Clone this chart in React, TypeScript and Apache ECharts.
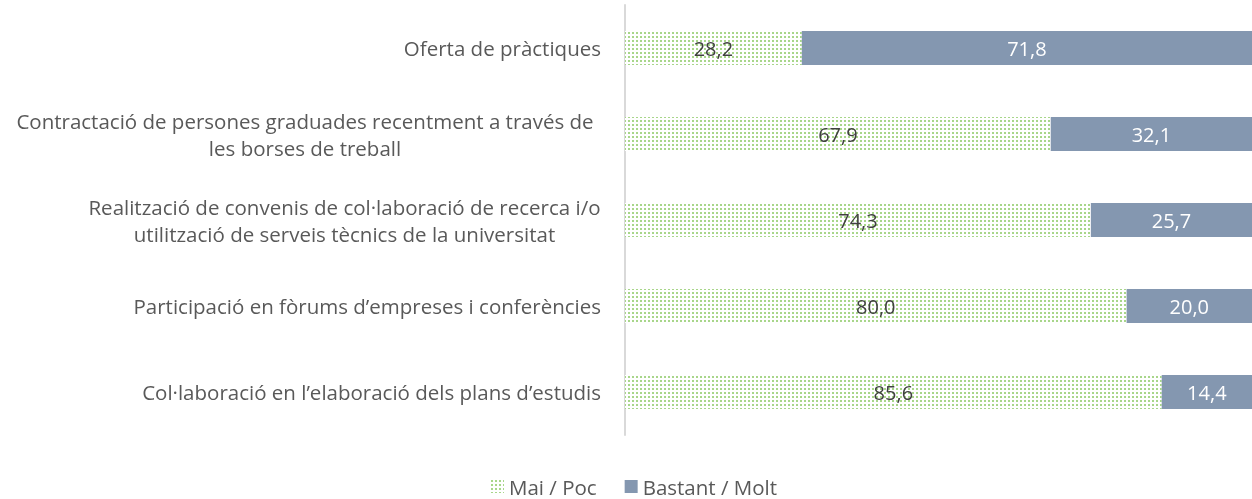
import React, { useEffect, useRef } from "react";
import * as echarts from "echarts";

const categories = [
  "Oferta de pràctiques",
  "Contractació de persones graduades recentment a través de\nles borses de treball",
  "Realització de convenis de col·laboració de recerca i/o\nutilització de serveis tècnics de la universitat",
  "Participació en fòrums d’empreses i conferències",
  "Col·laboració en l’elaboració dels plans d’estudis",
];
const maiPoc = [28.2, 67.9, 74.3, 80.0, 85.6];
const bastantMolt = [71.8, 32.1, 25.7, 20.0, 14.4];
const seriesNames = ["Mai / Poc", "Bastant / Molt"];

const FONT = '"Open Sans", sans-serif';
const CAT_SIZE = 20.5;

function makePattern(): HTMLCanvasElement {
  const c = document.createElement("canvas");
  c.width = 4;
  c.height = 4;
  const ctx = c.getContext("2d")!;
  ctx.fillStyle = "#ffffff";
  ctx.fillRect(0, 0, 4, 4);
  ctx.fillStyle = "#a8d68a";
  ctx.fillRect(0, 0, 2, 2);
  return c;
}

function measure(text: string): number {
  const c = document.createElement("canvas");
  const ctx = c.getContext("2d")!;
  ctx.font = `${CAT_SIZE}px "Open Sans"`;
  return ctx.measureText(text).width;
}

export default function App() {
  const ref = useRef<HTMLDivElement>(null);
  useEffect(() => {
    if (!ref.current) return;
    const chart = echarts.init(ref.current, undefined, { renderer: "svg" });
    const pattern = makePattern();
    const greenFill: any = { image: pattern, repeat: "repeat" };
    const fmt = (v: number) => v.toFixed(1).replace(".", ",");
    const rich: Record<string, any> = {};
    categories.forEach((cat, i) => {
      const lines = cat.split("\n");
      if (lines.length > 1) {
        const extra = i === 1 ? 14 : 0;
        rich["c" + i] = {
          color: "#595959",
          fontSize: CAT_SIZE,
          fontFamily: FONT,
          lineHeight: 27,
          align: "center",
          width: Math.ceil(Math.max(...lines.map(measure))) + extra,
        };
      }
    });
    chart.setOption({
      animation: false,
      textStyle: { fontFamily: FONT },
      grid: { left: 625, right: 0, top: 5, bottom: 64, containLabel: false },
      legend: {
        top: 476,
        left: 491,
        padding: 0,
        itemWidth: 13,
        itemHeight: 13,
        itemGap: 28,
        icon: "rect",
        textStyle: {
          color: "#595959",
          fontSize: 20.5,
          lineHeight: 20,
          fontFamily: FONT,
        },
        data: seriesNames,
      },
      xAxis: { type: "value", min: 0, max: 100, show: false },
      yAxis: {
        type: "category",
        inverse: true,
        data: categories,
        axisLine: { show: true, lineStyle: { color: "#d9d9d9", width: 2 } },
        axisTick: { show: false },
        axisLabel: {
          margin: 24,
          color: "#595959",
          fontSize: CAT_SIZE,
          fontFamily: FONT,
          lineHeight: 27,
          formatter: (v: string) => {
            const lines = v.split("\n");
            if (lines.length === 1) return v;
            const i = categories.indexOf(v);
            return lines.map((l) => `{c${i}|${l}}`).join("\n");
          },
          rich,
        },
      },
      series: [
        {
          name: seriesNames[0],
          type: "bar",
          stack: "t",
          barWidth: 34,
          data: maiPoc,
          itemStyle: { color: greenFill },
          label: {
            show: true,
            position: "inside",
            color: "#404040",
            fontSize: 20,
            fontFamily: FONT,
            formatter: (p: any) => fmt(p.value),
          },
        },
        {
          name: seriesNames[1],
          type: "bar",
          stack: "t",
          barWidth: 34,
          data: bastantMolt,
          itemStyle: { color: "#8497b0" },
          label: {
            show: true,
            position: "inside",
            color: "#ffffff",
            fontSize: 20,
            fontFamily: FONT,
            formatter: (p: any) => fmt(p.value),
          },
        },
      ],
    });
    return () => chart.dispose();
  }, []);
  return (
    <div
      ref={ref}
      style={{ position: "fixed", left: 0, top: 0, width: 1252, height: 499 }}
    />
  );
}
